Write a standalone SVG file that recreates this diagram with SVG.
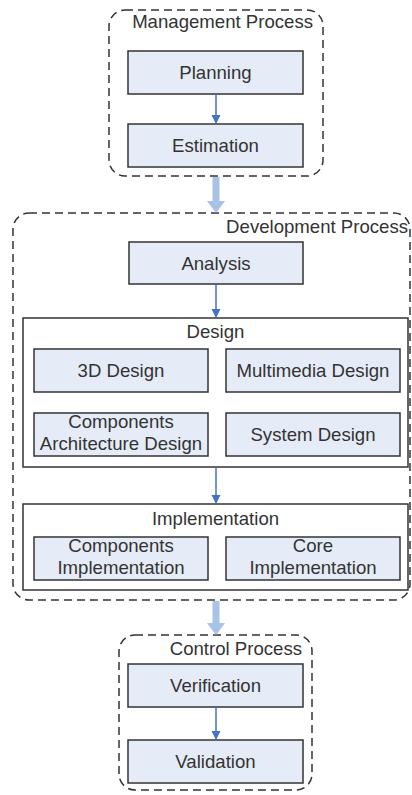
<svg xmlns="http://www.w3.org/2000/svg" width="412" height="795" viewBox="0 0 412 795">
  <defs>
    <style>
      .proc { fill: none; stroke: #333; stroke-width: 1.5; stroke-dasharray: 8 5; }
      .node { fill: #e6ecf7; stroke: #333; stroke-width: 1.5; }
      .group { fill: #fff; stroke: #333; stroke-width: 1.5; }
      text { font-family: "Liberation Sans", Arial, sans-serif; font-size: 18.6px; fill: #333; }
      .c { text-anchor: middle; }
      .e { text-anchor: end; }
      .link { stroke: #4472c4; stroke-width: 1.5; fill: none; }
      .flow { fill: #a9c3e7; }
    </style>
    <marker id="arrow" viewBox="0 0 10 10" refX="10" refY="5" markerWidth="9" markerHeight="11" markerUnits="userSpaceOnUse" orient="auto">
      <path d="M0,0 L10,5 L0,10 z" fill="#4472c4"/>
    </marker>
  </defs>

  <rect width="412" height="795" fill="#fff"/>

  <!-- process containers -->
  <g id="management-process">
    <rect class="proc" x="109" y="10" width="214" height="166" rx="16"/>
    <text class="e" x="313" y="28">Management Process</text>
  </g>
  <g id="development-process">
    <rect class="proc" x="13" y="213" width="397" height="387" rx="16"/>
    <text class="e" x="408" y="233">Development Process</text>
  </g>
  <g id="control-process">
    <rect class="proc" x="119" y="635" width="193" height="155" rx="16"/>
    <text class="e" x="302" y="655">Control Process</text>
  </g>

  <!-- nodes -->
  <g id="planning">
    <rect class="node" x="128" y="51" width="175" height="43"/>
    <text class="c" x="215.5" y="79">Planning</text>
  </g>
  <g id="estimation">
    <rect class="node" x="128" y="124" width="175" height="43"/>
    <text class="c" x="215.5" y="152">Estimation</text>
  </g>
  <g id="analysis">
    <rect class="node" x="129" y="242" width="174" height="42"/>
    <text class="c" x="216" y="269.5">Analysis</text>
  </g>

  <g id="design">
    <rect class="group" x="23" y="318" width="385" height="149"/>
    <text class="c" x="215.5" y="338">Design</text>
  </g>
  <g id="design-3d">
    <rect class="node" x="34" y="349" width="174" height="43"/>
    <text class="c" x="121" y="377">3D Design</text>
  </g>
  <g id="design-multimedia">
    <rect class="node" x="226" y="349" width="174" height="43"/>
    <text class="c" x="313" y="377">Multimedia Design</text>
  </g>
  <g id="design-components">
    <rect class="node" x="34" y="413" width="174" height="43"/>
    <text class="c" x="121" y="428">Components</text>
    <text class="c" x="121" y="450">Architecture Design</text>
  </g>
  <g id="design-system">
    <rect class="node" x="226" y="413" width="174" height="43"/>
    <text class="c" x="313" y="441">System Design</text>
  </g>

  <g id="implementation">
    <rect class="group" x="23" y="504" width="385" height="86"/>
    <text class="c" x="215.5" y="525">Implementation</text>
  </g>
  <g id="impl-components">
    <rect class="node" x="34" y="537" width="174" height="43"/>
    <text class="c" x="121" y="552">Components</text>
    <text class="c" x="121" y="574">Implementation</text>
  </g>
  <g id="impl-core">
    <rect class="node" x="226" y="537" width="174" height="43"/>
    <text class="c" x="313" y="552">Core</text>
    <text class="c" x="313" y="574">Implementation</text>
  </g>

  <g id="verification">
    <rect class="node" x="128" y="664" width="175" height="43"/>
    <text class="c" x="215.5" y="692">Verification</text>
  </g>
  <g id="validation">
    <rect class="node" x="128" y="740" width="175" height="43"/>
    <text class="c" x="215.5" y="768">Validation</text>
  </g>

  <!-- connectors -->
  <g id="connectors">
    <line class="link" x1="216" y1="94" x2="216" y2="124" marker-end="url(#arrow)"/>
    <line class="link" x1="216" y1="284" x2="216" y2="318" marker-end="url(#arrow)"/>
    <line class="link" x1="216" y1="467" x2="216" y2="504" marker-end="url(#arrow)"/>
    <line class="link" x1="216" y1="707" x2="216" y2="740" marker-end="url(#arrow)"/>
    <path class="flow" d="M212.5,177 L219.5,177 L219.5,201 L225,201 L216,213 L207,201 L212.5,201 z"/>
    <path class="flow" d="M212.5,601 L219.5,601 L219.5,623 L225,623 L216,635 L207,623 L212.5,623 z"/>
  </g>
</svg>
